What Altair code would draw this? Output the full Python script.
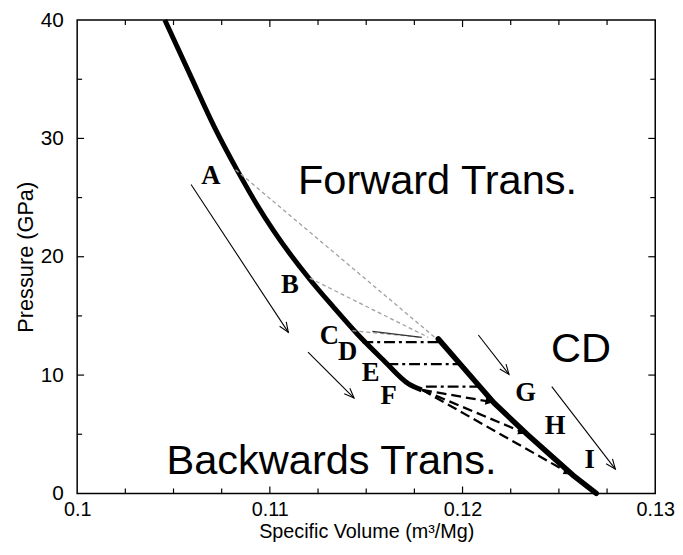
import math
import altair as alt
import pandas as pd

# ---------------- data ----------------
# thick left branch (specific volume m^3/Mg, pressure GPa)
left_v = [0.10455, 0.10591, 0.10711, 0.10831, 0.10933, 0.11019, 0.11207, 0.11327,
          0.11455, 0.11590, 0.11720, 0.11788]
left_p = [40.0, 35.2, 31.0, 27.3, 24.4, 22.2, 18.1, 15.8, 13.45, 11.25, 9.25, 8.75]

# thick right branch
right_v = [0.11874, 0.11993, 0.12089, 0.12164, 0.12335, 0.12574, 0.12694]
right_p = [13.06, 10.83, 9.03, 7.64, 5.0, 1.53, 0.0]

# grey dotted forward-transition paths (A, B, C)
dot_name = ["A", "B", "C"]
dot_v0 = [0.10822, 0.11207, 0.11429]
dot_p0 = [27.36, 18.19, 13.75]
dot_v1 = [0.11856, 0.11822, 0.11788]
dot_p1 = [13.19, 13.19, 13.19]

# thin solid segment of path C
csol_v = [0.11532, 0.11788]
csol_p = [13.69, 13.19]

# dash-dot horizontal paths (D, E, F)
dd_name = ["D", "E", "F"]
dd_p = [12.78, 10.92, 9.03]
dd_v0 = [0.1148, 0.1161, 0.1181]
dd_v1 = [0.11885, 0.1198, 0.1209]

# dashed backward paths from F to G, H, I
dash_name = ["G", "H", "I"]
dash_v0 = [0.1179, 0.1179, 0.1179]
dash_p0 = [8.75, 8.75, 8.75]
dash_v1 = [0.1216, 0.1233, 0.12566]
dash_p1 = [7.7, 5.05, 1.6]

# thin arrows
arr_v0 = [0.10591, 0.11198, 0.12082, 0.12463]
arr_p0 = [26.11, 11.94, 13.39, 9.03]
arr_v1 = [0.11096, 0.11437, 0.12241, 0.12793]
arr_p1 = [13.61, 8.06, 10.06, 2.05]

# point letters
let_txt = ["A", "B", "C", "D", "E", "F", "G", "H", "I"]
let_v = [0.10694, 0.11104, 0.11309, 0.11403, 0.11523, 0.11617, 0.12327, 0.12481, 0.1266]
let_p = [26.8, 17.64, 13.33, 11.94, 10.14, 8.19, 8.47, 5.69, 2.78]

# region labels
reg_txt = ["Forward Trans.", "CD", "Backwards Trans."]
reg_v = [0.1187, 0.12615, 0.1132]
reg_p = [26.4, 12.15, 2.74]

# axis ticks
x_major = [0.11, 0.12]
x_minor = [0.1025, 0.105, 0.1075, 0.1125, 0.115, 0.1175, 0.1225, 0.125, 0.1275]
y_major = [10, 20, 30]
y_minor = [5, 15, 25, 35]
x_labels = [0.1, 0.11, 0.12, 0.13]
y_labels = [0, 10, 20, 30, 40]

# ---------------- chart ----------------
W, H = 585, 479
XD, YD = [0.1, 0.13], [0, 40]
SX = W / (XD[1] - XD[0])
SY = H / (YD[1] - YD[0])

x_axis = alt.Axis(values=x_labels, format="~g", title="Specific Volume (m³/Mg)",
                  labelFlush=False, labelPadding=6, titlePadding=3, titleFontSize=20,
                  labelFontSize=20)
y_axis = alt.Axis(values=y_labels, format="d", title="Pressure (GPa)",
                  labelFlush=False, labelPadding=14, titlePadding=3, titleFontSize=22,
                  labelFontSize=21)


def X():
    return alt.X("v:Q", scale=alt.Scale(domain=XD, nice=False, zero=False), axis=x_axis)


def Y():
    return alt.Y("p:Q", scale=alt.Scale(domain=YD, nice=False, zero=False), axis=y_axis)


def segs(names, v0, p0, v1, p1):
    rows = []
    for n, a, b, c, d in zip(names, v0, p0, v1, p1):
        rows.append({"seg": n, "v": a, "p": b, "o": 0})
        rows.append({"seg": n, "v": c, "p": d, "o": 1})
    return pd.DataFrame(rows)


def heads(v0, p0, v1, p1):
    rows = []
    for a, b, c, d in zip(v0, p0, v1, p1):
        dx = (c - a) * SX
        dy = -(d - b) * SY
        ang = math.degrees(math.atan2(dx, -dy)) % 360
        rows.append({"v": c, "p": d, "ang": ang})
    return pd.DataFrame(rows)


left_df = pd.DataFrame({"v": left_v, "p": left_p})
right_df = pd.DataFrame({"v": right_v, "p": right_p})

left = alt.Chart(left_df).mark_line(color="black", strokeWidth=5, interpolate="monotone",
                                    strokeCap="butt").encode(x=X(), y=Y())
right = alt.Chart(right_df).mark_line(color="black", strokeWidth=5.5,
                                      strokeCap="round").encode(x=X(), y=Y())

dots = alt.Chart(segs(dot_name, dot_v0, dot_p0, dot_v1, dot_p1)).mark_line(
    color="#a0a0a0", strokeWidth=1.3, strokeDash=[4, 3]).encode(
    x=X(), y=Y(), detail="seg:N", order="o:Q")

csol = alt.Chart(pd.DataFrame({"v": csol_v, "p": csol_p})).mark_line(
    color="#333333", strokeWidth=1.3).encode(x=X(), y=Y())

ddf = segs(dd_name, dd_v0, dd_p, dd_v1, dd_p)
dashdot = alt.Chart(ddf).mark_line(color="black", strokeWidth=2.3,
                                   strokeDash=[11, 4, 3, 4]).encode(
    x=X(), y=Y(), detail="seg:N", order="o:Q")

dashed = alt.Chart(segs(dash_name, dash_v0, dash_p0, dash_v1, dash_p1)).mark_line(
    color="black", strokeWidth=2.3, strokeDash=[10, 5]).encode(
    x=X(), y=Y(), detail="seg:N", order="o:Q")

dash_heads = alt.Chart(heads(dash_v0, dash_p0, dash_v1, dash_p1)).mark_point(
    shape="M0,0L-0.5,1L0.5,1Z", filled=True, color="black", size=260, opacity=1).encode(
    x=X(), y=Y(), angle=alt.Angle("ang:Q", scale=None))

arr_names = ["a1", "a2", "a3", "a4"]
arrows = alt.Chart(segs(arr_names, arr_v0, arr_p0, arr_v1, arr_p1)).mark_line(
    color="black", strokeWidth=1.1).encode(x=X(), y=Y(), detail="seg:N", order="o:Q")
arrow_heads = alt.Chart(heads(arr_v0, arr_p0, arr_v1, arr_p1)).mark_point(
    shape="M-0.4,1L0,0L0.4,1", filled=False, color="black", strokeWidth=1.1,
    size=400, opacity=1).encode(x=X(), y=Y(), angle=alt.Angle("ang:Q", scale=None))

letters = alt.Chart(pd.DataFrame({"v": let_v, "p": let_p, "t": let_txt})).mark_text(
    font="Liberation Serif", fontWeight="bold", fontSize=27, color="black",
    align="center", baseline="middle").encode(x=X(), y=Y(), text="t:N")

regions = alt.Chart(pd.DataFrame({"v": reg_v, "p": reg_p, "t": reg_txt})).mark_text(
    font="Liberation Sans", fontSize=42, color="black",
    align="center", baseline="middle").encode(x=X(), y=Y(), text="t:N")


# inward ticks on all four sides
def xticks(vals, ln):
    d = pd.DataFrame({"v": vals})
    b = alt.Chart(d).mark_rule(color="black", strokeWidth=1.2).encode(
        x=X(), y=alt.value(H), y2=alt.value(H - ln))
    t = alt.Chart(d).mark_rule(color="black", strokeWidth=1.2).encode(
        x=X(), y=alt.value(0), y2=alt.value(ln))
    return [b, t]


def yticks(vals, ln):
    d = pd.DataFrame({"p": vals})
    l = alt.Chart(d).mark_rule(color="black", strokeWidth=1.2).encode(
        y=Y(), x=alt.value(0), x2=alt.value(ln))
    r = alt.Chart(d).mark_rule(color="black", strokeWidth=1.2).encode(
        y=Y(), x=alt.value(W), x2=alt.value(W - ln))
    return [l, r]


tick_layers = xticks(x_major, 7) + xticks(x_minor, 5) + yticks(y_major, 7) + yticks(y_minor, 5)

chart = alt.layer(
    left, *tick_layers, dots, csol, dashdot, dashed, dash_heads, right,
    arrows, arrow_heads, letters, regions
).properties(
    width=W, height=H,
    autosize=alt.AutoSizeParams(type="none"),
    padding={"left": 70, "top": 9, "right": 20, "bottom": 51},
).configure_axis(
    grid=False, ticks=False, domain=False,
    labelFont="Liberation Sans", labelColor="black",
    titleFont="Liberation Sans", titleFontWeight="normal",
    titleColor="black", labelOverlap=False,
).configure_view(stroke="black", strokeWidth=1.5)

chart.save("out.html", embed_options={"renderer": "svg", "actions": False})
